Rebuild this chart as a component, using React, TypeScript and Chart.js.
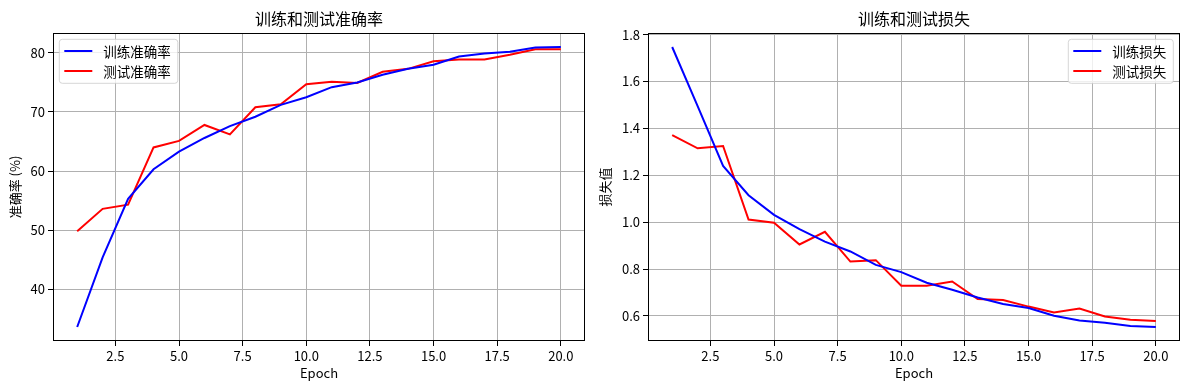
import React, { useEffect, useRef } from 'react';
import { Chart, registerables } from 'chart.js';

Chart.register(...registerables);

// ---------- data ----------
const epochs = [1, 2, 3, 4, 5, 6, 7, 8, 9, 10, 11, 12, 13, 14, 15, 16, 17, 18, 19, 20];
const trainAcc = [33.6, 45.4, 55.3, 60.3, 63.3, 65.6, 67.6, 69.2, 71.2, 72.5, 74.2, 75.0, 76.3, 77.3, 78.0, 79.4, 79.9, 80.2, 80.9, 81.0];
const testAcc = [49.8, 53.6, 54.3, 64.0, 65.1, 67.8, 66.2, 70.8, 71.3, 74.7, 75.1, 74.9, 76.8, 77.3, 78.6, 78.9, 78.9, 79.7, 80.6, 80.6];
const trainLoss = [1.747, 1.495, 1.24, 1.115, 1.031, 0.970, 0.917, 0.875, 0.818, 0.787, 0.742, 0.712, 0.679, 0.651, 0.634, 0.601, 0.581, 0.571, 0.557, 0.553];
const testLoss = [1.371, 1.315, 1.325, 1.011, 0.998, 0.905, 0.959, 0.832, 0.838, 0.729, 0.729, 0.747, 0.672, 0.668, 0.640, 0.615, 0.632, 0.598, 0.584, 0.579];
const xTicks = [2.5, 5, 7.5, 10, 12.5, 15, 17.5, 20];
const accTicks = [40, 50, 60, 70, 80];
const lossTicks = [0.6, 0.8, 1.0, 1.2, 1.4, 1.6, 1.8];

const accTitle = '训练和测试准确率';
const lossTitle = '训练和测试损失';
const accLabels = ['训练准确率', '测试准确率'];
const lossLabels = ['训练损失', '测试损失'];
const xLabel = 'Epoch';
const accYLabel = '准确率 (%)';
const lossYLabel = '损失值';

const FONT = '"Noto Sans CJK SC", "Noto Sans", sans-serif';

function margins(values: number[]) {
  const mn = Math.min(...values);
  const mx = Math.max(...values);
  const pad = (mx - mn) * 0.05;
  return [mn - pad, mx + pad];
}

function roundRectPath(ctx: CanvasRenderingContext2D, x: number, y: number, w: number, h: number, r: number) {
  ctx.beginPath();
  ctx.moveTo(x + r, y);
  ctx.lineTo(x + w - r, y);
  ctx.arcTo(x + w, y, x + w, y + r, r);
  ctx.lineTo(x + w, y + h - r);
  ctx.arcTo(x + w, y + h, x + w - r, y + h, r);
  ctx.lineTo(x + r, y + h);
  ctx.arcTo(x, y + h, x, y + h - r, r);
  ctx.lineTo(x, y + r);
  ctx.arcTo(x, y, x + r, y, r);
  ctx.closePath();
}

const decorPlugin = {
  id: 'mplDecor',
  afterDatasetsDraw(chart: any, _args: any, opts: any) {
    const { ctx, chartArea: a } = chart;
    ctx.save();
    // frame (spines)
    ctx.strokeStyle = '#000';
    ctx.lineWidth = 1;
    const l = Math.round(a.left) + 0.5;
    const t = Math.round(a.top) + 0.5;
    const r = Math.round(a.right) - 0.5;
    const b = Math.round(a.bottom) - 0.5;
    ctx.strokeRect(l, t, r - l, b - t);

    // legend
    ctx.font = `13.5px ${FONT}`;
    const items = chart.data.datasets.map((d: any) => ({ label: d.label, color: d.borderColor }));
    const maxW = Math.max(...items.map((it: any) => ctx.measureText(it.label).width));
    const boxW = 5 + 28 + 11 + maxW + 7;
    const boxH = 44;
    const x0 = opts.legendPos === 'right' ? a.right - 6.7 - boxW : a.left + 6.3;
    const y0 = a.top + 6.3;
    roundRectPath(ctx, x0, y0, boxW, boxH, 3);
    ctx.fillStyle = 'rgba(255,255,255,0.8)';
    ctx.fill();
    ctx.strokeStyle = 'rgba(204,204,204,0.8)';
    ctx.lineWidth = 1;
    ctx.stroke();
    items.forEach((it: any, i: number) => {
      const yy = y0 + 11.7 + i * 20;
      ctx.beginPath();
      ctx.moveTo(x0 + 5, yy);
      ctx.lineTo(x0 + 33, yy);
      ctx.strokeStyle = it.color;
      ctx.lineWidth = 2;
      ctx.stroke();
      ctx.fillStyle = '#000';
      ctx.textAlign = 'left';
      ctx.textBaseline = 'middle';
      ctx.fillText(it.label, x0 + 44, yy + 0.5);
    });
    ctx.restore();
  },
  afterDraw(chart: any, _args: any, opts: any) {
    const { ctx, chartArea: a } = chart;
    ctx.save();
    ctx.font = `16px ${FONT}`;
    ctx.fillStyle = '#000';
    ctx.textAlign = 'center';
    ctx.textBaseline = 'middle';
    ctx.fillText(opts.title, (a.left + a.right) / 2, 19);
    ctx.restore();
  },
};

function makeConfig(
  labels: string[],
  series: number[][],
  yTicks: number[],
  yFmt: (v: number) => string,
  yTitle: string,
  yAxisWidth: number,
  yTitlePad: number,
  title: string,
  legendPos: string
): any {
  const colors = ['#0000ff', '#ff0000'];
  const [xMin, xMax] = margins(epochs);
  const [yMin, yMax] = margins(series.flat());
  const tickFont = { family: FONT, size: 13 };
  return {
    type: 'line',
    data: {
      datasets: series.map((s, i) => ({
        label: labels[i],
        data: epochs.map((e, j) => ({ x: e, y: s[j] })),
        borderColor: colors[i],
        backgroundColor: colors[i],
        borderWidth: 2,
        pointRadius: 0,
        tension: 0,
        fill: false,
      })),
    },
    options: {
      animation: false,
      responsive: false,
      devicePixelRatio: 1,
      layout: { padding: { top: 33, right: 9, bottom: 0, left: 0 } },
      plugins: {
        legend: { display: false },
        tooltip: { enabled: false },
        title: { display: false },
        mplDecor: { title, legendPos },
      },
      scales: {
        x: {
          type: 'linear',
          min: xMin,
          max: xMax,
          afterBuildTicks: (s: any) => {
            s.ticks = xTicks.map((v) => ({ value: v }));
          },
          afterFit: (s: any) => {
            s.height = 49;
          },
          ticks: {
            callback: (v: any) => Number(v).toFixed(1),
            font: tickFont,
            color: '#000',
            padding: 2,
            maxRotation: 0,
            autoSkip: false,
          },
          grid: { color: '#b0b0b0', lineWidth: 1, tickColor: '#000', tickLength: 5, drawTicks: true },
          border: { display: false },
          title: { display: true, text: xLabel, color: '#000', font: tickFont, padding: { top: 0, bottom: 9 } },
        },
        y: {
          type: 'linear',
          min: yMin,
          max: yMax,
          afterBuildTicks: (s: any) => {
            s.ticks = yTicks.map((v) => ({ value: v }));
          },
          afterFit: (s: any) => {
            s.width = yAxisWidth;
          },
          ticks: {
            callback: (v: any) => yFmt(Number(v)),
            font: tickFont,
            color: '#000',
            padding: 3,
            autoSkip: false,
          },
          grid: { color: '#b0b0b0', lineWidth: 1, tickColor: '#000', tickLength: 5, drawTicks: true },
          border: { display: false },
          title: { display: true, text: yTitle, color: '#000', font: tickFont, padding: { top: yTitlePad, bottom: 0 } },
        },
      },
    },
    plugins: [decorPlugin],
  };
}

function ChartCanvas({ config, left, width }: { config: () => any; left: number; width: number }) {
  const ref = useRef<HTMLCanvasElement | null>(null);
  useEffect(() => {
    if (!ref.current) return;
    const chart = new Chart(ref.current, config());
    return () => chart.destroy();
  }, []);
  return (
    <canvas
      ref={ref}
      width={width}
      height={390}
      style={{ position: 'absolute', left, top: 0, width, height: 390 }}
    />
  );
}

export default function App() {
  return (
    <div style={{ position: 'fixed', left: 0, top: 0, width: 1189, height: 390, background: '#fff' }}>
      <ChartCanvas
        left={0}
        width={594}
        config={() =>
          makeConfig(accLabels, [trainAcc, testAcc], accTicks, (v) => String(Math.round(v)), accYLabel, 53, 7, accTitle, 'left')
        }
      />
      <ChartCanvas
        left={594}
        width={595}
        config={() =>
          makeConfig(lossLabels, [trainLoss, testLoss], lossTicks, (v) => v.toFixed(1), lossYLabel, 54, 3, lossTitle, 'right')
        }
      />
    </div>
  );
}
